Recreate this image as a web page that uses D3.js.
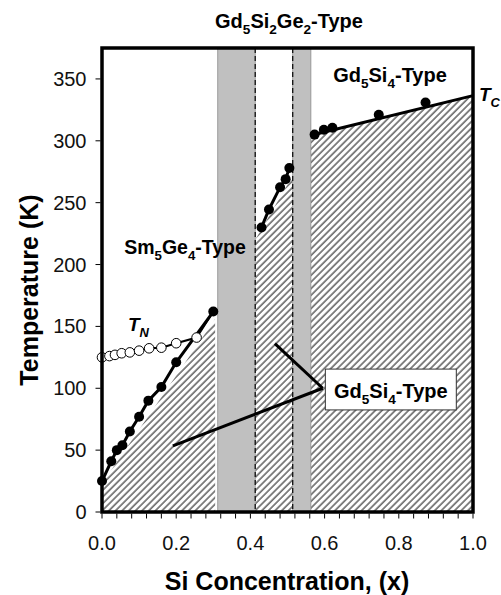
<!DOCTYPE html>
<html><head><meta charset="utf-8">
<script src="https://cdn.jsdelivr.net/npm/d3@7"></script>
<style>body{margin:0;background:#fff;} svg{display:block;font-family:"Liberation Sans",Arial,sans-serif;}</style>
</head><body>
<svg id="c" width="501" height="595"></svg>
<script>
// ---- data ----
const smX = [0, 0.025, 0.04, 0.055, 0.075, 0.1, 0.125, 0.16, 0.2, 0.3];
const smT = [25, 41, 50, 54, 65, 77, 90, 101, 121, 162];
const tnX = [0, 0.02, 0.035, 0.053, 0.075, 0.1, 0.127, 0.16, 0.2, 0.255];
const tnT = [125, 126, 127, 128.3, 129, 130.4, 132.3, 132.8, 136.4, 141];
const gsgX = [0.43, 0.45, 0.48, 0.495, 0.505];
const gsgT = [230, 244.5, 262.5, 269, 278];
const gsX = [0.573, 0.598, 0.621, 0.746, 0.872];
const gsT = [305, 309, 310.5, 321, 331];
const gsLineX = [0.564, 1.0];
const gsLineT = [304.5, 336.5];
const hatchX0 = [0, 0.413, 0.563];
const hatchX1 = [0.305, 0.514, 1.0];
const hatchTop0 = [23, 220, 304.5];
const hatchTop1 = [156, 272, 336.5];
const grayX0 = [0.312, 0.514];
const grayX1 = [0.413, 0.563];
const dashX = [0.413, 0.514];
const xTicks = [0, 0.2, 0.4, 0.6, 0.8, 1.0];
const xMinor = d3.range(0, 41).map(i => i * 0.04).filter(v => v <= 1.0001);
const yTicks = [0, 50, 100, 150, 200, 250, 300, 350];

// ---- scales ----
const svg = d3.select("#c");
const x = d3.scaleLinear().domain([0, 1]).range([102, 473]);
const y = d3.scaleLinear().domain([0, 375]).range([512, 48]);

// hatch pattern
const defs = svg.append("defs");
const pat = defs.append("pattern").attr("id", "hatch").attr("patternUnits", "userSpaceOnUse")
  .attr("width", 4.7).attr("height", 10).attr("patternTransform", "rotate(45)");
pat.append("line").attr("x1", 1).attr("x2", 1).attr("y1", 0).attr("y2", 10)
  .attr("stroke", "#222").attr("stroke-width", 1.1);

// hatched regions
hatchX0.forEach((x0, i) => {
  const pts = [[x0, 0], [x0, hatchTop0[i]], [hatchX1[i], hatchTop1[i]], [hatchX1[i], 0]];
  svg.append("path").attr("d", d3.line().x(d => x(d[0])).y(d => y(d[1]))(pts) + "Z")
    .attr("fill", "url(#hatch)");
});

// gray bands
grayX0.forEach((g, i) => {
  svg.append("rect").attr("x", x(g)).attr("y", y(375)).attr("width", x(grayX1[i]) - x(g))
    .attr("height", y(0) - y(375)).attr("fill", "#c0c0c0").attr("stroke", "#8a8a8a").attr("stroke-width", 0.8);
});
// dashed lines
dashX.forEach(d => {
  svg.append("line").attr("x1", x(d)).attr("x2", x(d)).attr("y1", y(375)).attr("y2", y(0))
    .attr("stroke", "#111").attr("stroke-width", 1.3).attr("stroke-dasharray", "5,3");
});

const line = d3.line().x(d => x(d[0])).y(d => y(d[1]));
const zip = (a, b) => a.map((v, i) => [v, b[i]]);

// lines
svg.append("path").attr("d", line(zip(tnX, tnT).concat([[smX[smX.length - 1], smT[smT.length - 1]]])))
  .attr("fill", "none").attr("stroke", "#000").attr("stroke-width", 2);
svg.append("path").attr("d", line(zip(smX, smT))).attr("fill", "none").attr("stroke", "#000").attr("stroke-width", 3);
svg.append("path").attr("d", line(zip(gsgX, gsgT))).attr("fill", "none").attr("stroke", "#000").attr("stroke-width", 3);
svg.append("path").attr("d", line(zip(gsLineX, gsLineT))).attr("fill", "none").attr("stroke", "#000").attr("stroke-width", 3);

// points
svg.selectAll(".tn").data(zip(tnX, tnT)).enter().append("circle")
  .attr("cx", d => x(d[0])).attr("cy", d => y(d[1])).attr("r", 4.8)
  .attr("fill", "#fff").attr("stroke", "#000").attr("stroke-width", 1);
svg.selectAll(".sm").data(zip(smX, smT).concat(zip(gsgX, gsgT), zip(gsX, gsT))).enter().append("circle")
  .attr("cx", d => x(d[0])).attr("cy", d => y(d[1])).attr("r", 5).attr("fill", "#000");

// frame
svg.append("rect").attr("x", x(0)).attr("y", y(375)).attr("width", x(1) - x(0)).attr("height", y(0) - y(375))
  .attr("fill", "none").attr("stroke", "#000").attr("stroke-width", 3.5);

// axes
const xAxis = svg.append("g").attr("transform", `translate(0,${y(0) + 1.5})`);
xAxis.selectAll("line").data(xMinor).enter().append("line")
  .attr("x1", d => x(d)).attr("x2", d => x(d)).attr("y1", 0).attr("y2", 5).attr("stroke", "#000").attr("stroke-width", 1);
xAxis.selectAll("text").data(xTicks).enter().append("text")
  .attr("x", d => x(d)).attr("y", 36).attr("text-anchor", "middle").attr("font-size", 20).attr("fill", "#111")
  .text(d => d3.format(".1f")(d));

const yAxis = svg.append("g").attr("transform", `translate(${x(0) - 1.5},0)`);
yAxis.selectAll("line").data(yTicks).enter().append("line")
  .attr("x1", -5).attr("x2", 0).attr("y1", d => y(d)).attr("y2", d => y(d)).attr("stroke", "#000").attr("stroke-width", 1);
yAxis.selectAll("text").data(yTicks).enter().append("text")
  .attr("x", -14).attr("y", d => y(d) + 7).attr("text-anchor", "end").attr("font-size", 20).attr("fill", "#111")
  .text(d => d);

// axis titles
svg.append("text").attr("x", 287).attr("y", 590).attr("text-anchor", "middle").attr("font-size", 25)
  .attr("font-weight", "bold").text("Si Concentration, (x)");
svg.append("text").attr("transform", "translate(38,290) rotate(-90)").attr("text-anchor", "middle")
  .attr("font-size", 25).attr("font-weight", "bold").text("Temperature (K)");

// rich text helper
function rich(parent, px, py, parts, size, anchor, italic) {
  const t = parent.append("text").attr("x", px).attr("y", py).attr("font-size", size)
    .attr("font-weight", "bold").attr("text-anchor", anchor || "start");
  if (italic) t.attr("font-style", "italic");
  let sub = false;
  parts.forEach(p => {
    const s = t.append("tspan").text(p[0]);
    if (p[1] && !sub) { s.attr("font-size", size * 0.68).attr("dy", size * 0.3); sub = true; }
    else if (!p[1] && sub) { s.attr("dy", -size * 0.3); sub = false; }
  });
  return t;
}

// labels
rich(svg, 289, 28, [["Gd", 0], ["5", 1], ["Si", 0], ["2", 1], ["Ge", 0], ["2", 1], ["-Type", 0]], 20, "middle");
rich(svg, 390, 82, [["Gd", 0], ["5", 1], ["Si", 0], ["4", 1], ["-Type", 0]], 20, "middle");
rich(svg, 185, 254, [["Sm", 0], ["5", 1], ["Ge", 0], ["4", 1], ["-Type", 0]], 19.5, "middle");
rich(svg, 128, 331, [["T", 0], ["N", 1]], 19, "start", true);
rich(svg, 479, 101, [["T", 0], ["C", 1]], 19, "start", true);

// annotation pointers (data coordinates)
const anchor = [0.595, 100];
[[0.466, 136], [0.191, 53.5]].forEach(e => {
  svg.append("line").attr("x1", x(anchor[0])).attr("y1", y(anchor[1])).attr("x2", x(e[0])).attr("y2", y(e[1]))
    .attr("stroke", "#000").attr("stroke-width", 3);
});
svg.append("rect").attr("x", x(0.602)).attr("y", y(115.5)).attr("width", x(0.955) - x(0.602))
  .attr("height", y(82.5) - y(115.5)).attr("fill", "#fff").attr("stroke", "#333").attr("stroke-width", 1);
rich(svg, x(0.7785), y(92), [["Gd", 0], ["5", 1], ["Si", 0], ["4", 1], ["-Type", 0]], 20, "middle");
</script>
</body></html>
